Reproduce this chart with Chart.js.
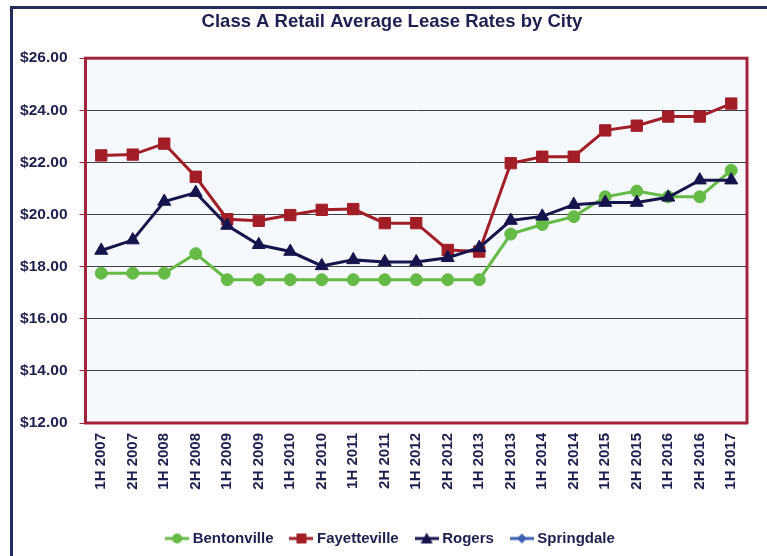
<!DOCTYPE html>
<html>
<head>
<meta charset="utf-8">
<script src="https://cdn.jsdelivr.net/npm/chart.js@4/dist/chart.umd.min.js"></script>
<style>
  html, body { margin: 0; padding: 0; background: #ffffff; overflow: hidden; }
  #wrap { position: relative; width: 767px; height: 556px; overflow: hidden; }
  #frame { position: absolute; left: 10px; top: 6px; width: 900px; height: 700px; border: 3px solid #232B5C; }
  #c { position: absolute; left: 0; top: 0; }
</style>
</head>
<body>
<div id="wrap">
  <div id="frame"></div>
  <canvas id="c" width="767" height="556"></canvas>
</div>
<script>
const categories = ['1H 2007','2H 2007','1H 2008','2H 2008','1H 2009','2H 2009','1H 2010','2H 2010','1H 2011','2H 2011','1H 2012','2H 2012','1H 2013','2H 2013','1H 2014','2H 2014','1H 2015','2H 2015','1H 2016','2H 2016','1H 2017'];
const bentonville  = [17.75,17.75,17.75,18.50,17.50,17.50,17.50,17.50,17.50,17.50,17.50,17.50,17.50,19.25,19.62,19.92,20.68,20.90,20.68,20.68,21.70];
const fayetteville = [22.27,22.30,22.72,21.45,19.82,19.76,19.98,20.18,20.21,19.67,19.67,18.64,18.58,21.97,22.22,22.22,23.23,23.41,23.76,23.76,24.26];
const rogers       = [18.62,19.02,20.50,20.84,19.58,18.84,18.58,18.03,18.26,18.18,18.18,18.34,18.73,19.77,19.93,20.38,20.46,20.46,20.66,21.32,21.32];
const springdale   = [null,null,null,null,null,null,null,null,null,null,null,null,null,null,null,null,null,null,null,null,null];
const seriesNames  = ['Bentonville','Fayetteville','Rogers','Springdale'];
const yTickMin = 12, yTickMax = 26, yTickStep = 2;

const TEXT = '#1E1E50';
const colors = ['#66BB46', '#A21E26', '#15144C', '#3F5FB2'];
const shapes = ['circle', 'rect', 'triangle', 'rectRot'];
const radii = [6, 8, 7.5, 6];

function makeIcon(color, shape) {
  const cv = document.createElement('canvas');
  cv.width = 24; cv.height = 14;
  const g = cv.getContext('2d');
  g.strokeStyle = color; g.lineWidth = 3;
  g.beginPath(); g.moveTo(0, 7); g.lineTo(24, 7); g.stroke();
  g.fillStyle = color;
  g.beginPath();
  if (shape === 'circle') { g.arc(12, 7, 5, 0, Math.PI * 2); }
  else if (shape === 'rect') { g.rect(7, 2, 10, 10); }
  else if (shape === 'triangle') { g.moveTo(12, 1); g.lineTo(18, 12); g.lineTo(6, 12); g.closePath(); }
  else { g.moveTo(12, 2); g.lineTo(17, 7); g.lineTo(12, 12); g.lineTo(7, 7); g.closePath(); }
  g.fill();
  return cv;
}
const icons = colors.map((c, i) => makeIcon(c, shapes[i]));

const seriesData = [bentonville, fayetteville, rogers, springdale];
const datasets = seriesNames.map((name, i) => ({
  label: name,
  data: seriesData[i],
  borderColor: colors[i],
  backgroundColor: colors[i],
  borderWidth: 3,
  pointStyle: shapes[i],
  pointRadius: radii[i],
  pointHoverRadius: radii[i],
  pointBackgroundColor: colors[i],
  pointBorderColor: colors[i],
  pointBorderWidth: 1,
  tension: 0,
  spanGaps: false,
  yAxisID: 'y',
  order: 4 - i
}));

const plotDecor = {
  id: 'plotDecor',
  beforeDraw(chart) {
    const a = chart.chartArea, ctx = chart.ctx;
    ctx.save();
    ctx.fillStyle = '#F5F8FC';
    ctx.fillRect(a.left, a.top, a.right - a.left, a.bottom - a.top);
    ctx.restore();
  },
  afterDatasetsDraw(chart) {
    const a = chart.chartArea, ctx = chart.ctx;
    ctx.save();
    ctx.strokeStyle = '#A3233A';
    ctx.lineWidth = 3;
    ctx.strokeRect(a.left, a.top, a.right - a.left, a.bottom - a.top);
    ctx.restore();
  }
};

Chart.defaults.font.family = '"Liberation Sans", Arial, sans-serif';
Chart.defaults.font.weight = 'bold';
Chart.defaults.color = TEXT;

new Chart(document.getElementById('c'), {
  type: 'line',
  data: { labels: categories, datasets },
  plugins: [plotDecor],
  options: {
    responsive: false,
    devicePixelRatio: 1,
    animation: false,
    layout: { padding: { left: 17, right: 0, top: 0, bottom: 0 } },
    plugins: {
      tooltip: { enabled: false },
      title: {
        display: true,
        text: 'Class A Retail Average Lease Rates by City',
        color: TEXT,
        font: { size: 18.5, weight: 'bold' },
        padding: { top: 11, bottom: 25 }
      },
      legend: {
        position: 'bottom',
        labels: {
          usePointStyle: true,
          pointStyleWidth: 16,
          padding: 20,
          color: TEXT,
          font: { size: 15, weight: 'bold' },
          generateLabels(chart) {
            return chart.data.datasets.map((ds, i) => ({
              text: ds.label,
              fillStyle: ds.backgroundColor,
              strokeStyle: ds.borderColor,
              lineWidth: 0,
              pointStyle: icons[i],
              hidden: !chart.isDatasetVisible(i),
              datasetIndex: i,
              fontColor: TEXT
            }));
          }
        }
      }
    },
    scales: {
      x: {
        offset: true,
        grid: { display: false, drawTicks: false },
        border: { display: false },
        ticks: { minRotation: 90, maxRotation: 90, autoSkip: false, padding: 10, color: TEXT, font: { size: 15, weight: 'bold' } },
        afterFit(s) { s.height = 88; }
      },
      y: {
        position: 'left',
        min: yTickMin,
        max: yTickMax,
        grid: { color: '#404040', lineWidth: 1, tickColor: '#A3233A', tickLength: 6 },
        border: { display: false },
        ticks: {
          stepSize: yTickStep,
          padding: 12,
          color: TEXT,
          font: { size: 15.5, weight: 'bold' },
          callback: v => '$' + Number(v).toFixed(2)
        },
        afterFit(s) { s.width = 68.5; }
      },
      yRightSpace: {
        position: 'right',
        display: true,
        grid: { display: false, drawTicks: false },
        border: { display: false },
        ticks: { display: false },
        afterFit(s) { s.width = 20; }
      }
    }
  }
});
</script>
</body>
</html>
